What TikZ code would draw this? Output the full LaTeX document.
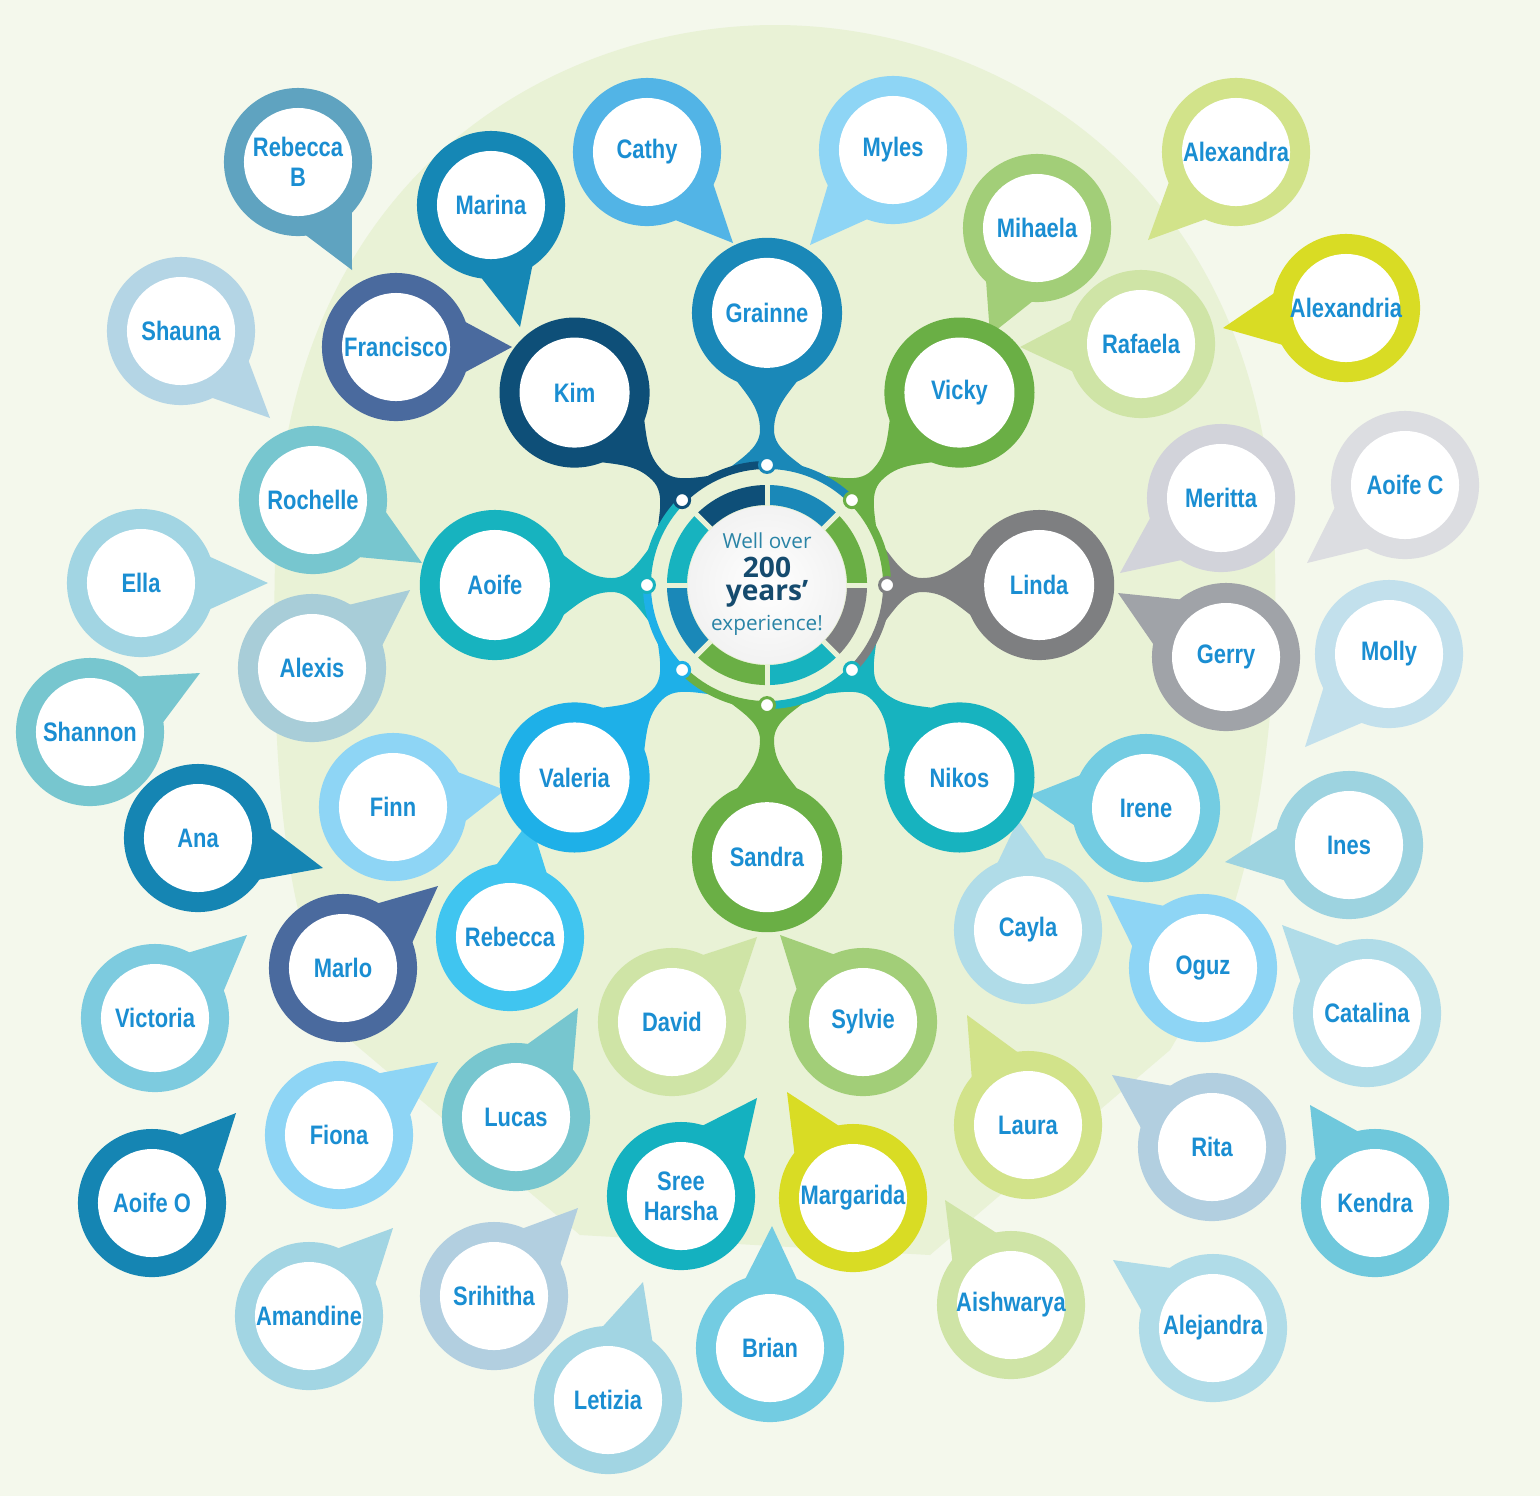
\documentclass[tikz,border=0pt]{standalone}
\usepackage{fontspec}
\setmainfont{Liberation Sans}
\newfontfamily\namefont{Liberation Sans}[FakeStretch=0.82]
\newfontfamily\hubfont{Open Sans}
\usetikzlibrary{calc}
\definecolor{bgout}{HTML}{F4F8EC}
\definecolor{bgin}{HTML}{E9F2D6}
\definecolor{nameblue}{HTML}{1A8ED2}
\definecolor{hubteal}{HTML}{2A84A6}
\definecolor{hubnavy}{HTML}{154B6E}
\definecolor{pSteel}{HTML}{5FA3C0}
\definecolor{pMarina}{HTML}{1587B5}
\definecolor{pCathy}{HTML}{52B4E6}
\definecolor{pSky}{HTML}{8ED5F5}
\definecolor{pLime}{HTML}{D2E38A}
\definecolor{pGreenL}{HTML}{A2CE78}
\definecolor{pYellow}{HTML}{D9DC24}
\definecolor{pPaleG}{HTML}{CFE4A6}
\definecolor{pShauna}{HTML}{B4D5E5}
\definecolor{pSlate}{HTML}{4A6A9E}
\definecolor{pTealL}{HTML}{77C6CF}
\definecolor{pElla}{HTML}{A2D5E3}
\definecolor{pAlexis}{HTML}{A8CDD8}
\definecolor{pMeritta}{HTML}{D2D3DA}
\definecolor{pAoifeC}{HTML}{DCDDE1}
\definecolor{pGerry}{HTML}{A0A3A8}
\definecolor{pMolly}{HTML}{C2E0EC}
\definecolor{pAna}{HTML}{1585B3}
\definecolor{pRebecca}{HTML}{40C5F0}
\definecolor{pVictoria}{HTML}{7DCBDF}
\definecolor{pIrene}{HTML}{73CCE2}
\definecolor{pInes}{HTML}{9DD3E0}
\definecolor{pCayla}{HTML}{B0DCE8}
\definecolor{pRita}{HTML}{B2CFE0}
\definecolor{pKendra}{HTML}{6FC8DC}
\definecolor{pSree}{HTML}{14B1C0}
\definecolor{cGrainne}{HTML}{1A88B8}
\definecolor{cVicky}{HTML}{6AAF45}
\definecolor{cLinda}{HTML}{7E7F81}
\definecolor{cNikos}{HTML}{17B3BF}
\definecolor{cSandra}{HTML}{6AAF45}
\definecolor{cValeria}{HTML}{1EB0E8}
\definecolor{cAoife}{HTML}{17B3BF}
\definecolor{cKim}{HTML}{0E4F78}
\tikzset{
  nm/.style={font=\namefont\bfseries\fontsize{7.6}{8.6}\selectfont, text=nameblue, align=center, inner sep=0pt},
  hubreg/.style={font=\hubfont\fontsize{5.9}{6.5}\selectfont, text=hubteal, inner sep=0pt},
  hubbold/.style={font=\hubfont\bfseries\fontsize{8}{8.5}\selectfont, text=hubnavy, inner sep=0pt}
}
% bubble: name, x, y, colour, tip x, tip y, text
\newcommand\bub[7]{%
  \coordinate (#1) at (#2,#3);
  \coordinate (#1t) at (#5,#6);
  \fill[#4] ($(#1)!0.66cm!28:(#1t)$) -- (#1t) -- ($(#1)!0.66cm!-28:(#1t)$) -- cycle;
  \fill[#4] (#1) circle (0.74cm);
  \fill[white] (#1) circle (0.54cm);
  \node[nm] (#1n) at (#1) {#7};
}
% inner node: name, angle, colour, text
\newcommand\inn[4]{%
  \fill[#3] ($(hub)+(#2:2.72cm)$) coordinate (#1) circle (0.75cm);
  \fill[white] (#1) circle (0.55cm);
  \node[nm] (#1n) at (#1) {#4};
}
\begin{document}
\begin{tikzpicture}[x=0.01cm,y=-0.01cm]
\useasboundingbox (0,0) rectangle (1540,1496);
\fill[bgout] (0,0) rectangle (1540,1496);
\fill[bgin] (775,25) .. controls (1000,25) and (1270,180) .. (1275,560)
  .. controls (1280,800) and (1230,950) .. (1170,1050) -- (930,1255) -- (580,1235) -- (350,1040)
  .. controls (290,950) and (270,800) .. (275,560) .. controls (280,180) and (550,25) .. (775,25) -- cycle;
\coordinate (hub) at (767,585);

% outer bubbles
\bub{Brian}{770}{1348}{pIrene}{772}{1226}{Brian}
\bub{Letizia}{608}{1400}{pElla}{643}{1282}{Letizia}
\bub{RebeccaB}{298}{162}{pSteel}{352}{270}{Rebecca\\B}
\bub{Marina}{491}{205}{pMarina}{520}{327}{Marina}
\bub{Cathy}{647}{152}{pCathy}{733}{243}{Cathy}
\bub{Myles}{893}{150}{pSky}{810}{245}{Myles}
\bub{Alexandra}{1236}{152}{pLime}{1148}{240}{Alexandra}
\bub{Mihaela}{1037}{228}{pGreenL}{990}{335}{Mihaela}
\bub{Alexandria}{1346}{308}{pYellow}{1223}{328}{Alexandria}
\bub{Rafaela}{1141}{344}{pPaleG}{1020}{347}{Rafaela}
\bub{Shauna}{181}{331}{pShauna}{270}{418}{Shauna}
\bub{Francisco}{396}{347}{pSlate}{512}{347}{Francisco}
\bub{Rochelle}{313}{500}{pTealL}{422}{563}{Rochelle}
\bub{Ella}{141}{583}{pElla}{268}{583}{Ella}
\bub{Alexis}{312}{668}{pAlexis}{410}{590}{Alexis}
\bub{Shannon}{90}{732}{pTealL}{200}{673}{Shannon}
\bub{Meritta}{1221}{498}{pMeritta}{1120}{573}{Meritta}
\bub{AoifeC}{1405}{485}{pAoifeC}{1307}{563}{Aoife C}
\bub{Gerry}{1226}{657}{pGerry}{1118}{593}{Gerry}
\bub{Molly}{1389}{654}{pMolly}{1305}{747}{Molly}
\bub{Finn}{393}{807}{pSky}{505}{790}{Finn}
\bub{Ana}{198}{838}{pAna}{323}{868}{Ana}
\bub{Rebecca}{510}{937}{pRebecca}{530}{820}{Rebecca}
\bub{Marlo}{343}{968}{pSlate}{438}{886}{Marlo}
\bub{Victoria}{155}{1018}{pVictoria}{247}{935}{Victoria}
\bub{Cayla}{1028}{930}{pCayla}{1018}{820}{Cayla}
\bub{Irene}{1146}{808}{pIrene}{1030}{795}{Irene}
\bub{Ines}{1349}{845}{pInes}{1225}{862}{Ines}
\bub{Oguz}{1203}{968}{pSky}{1107}{895}{Oguz}
\bub{Catalina}{1367}{1013}{pCayla}{1282}{925}{Catalina}
\bub{David}{672}{1022}{pPaleG}{757}{937}{David}
\bub{Sylvie}{863}{1022}{pGreenL}{780}{935}{Sylvie}
\bub{Fiona}{339}{1135}{pSky}{438}{1062}{Fiona}
\bub{Lucas}{516}{1117}{pTealL}{578}{1008}{Lucas}
\bub{Laura}{1028}{1125}{pLime}{967}{1015}{Laura}
\bub{Rita}{1212}{1147}{pRita}{1112}{1075}{Rita}
\bub{Kendra}{1375}{1203}{pKendra}{1310}{1105}{Kendra}
\bub{AoifeO}{152}{1203}{pAna}{236}{1113}{Aoife O}
\bub{SreeHarsha}{681}{1196}{pSree}{757}{1098}{Sree\\Harsha}
\bub{Margarida}{853}{1198}{pYellow}{787}{1092}{Margarida}
\bub{Amandine}{309}{1316}{pElla}{393}{1228}{Amandine}
\bub{Srihitha}{494}{1296}{pRita}{578}{1208}{Srihitha}
\bub{Aishwarya}{1011}{1305}{pPaleG}{945}{1200}{Aishwarya}
\bub{Alejandra}{1213}{1328}{pCayla}{1113}{1260}{Alejandra}

% connectors from hub to inner nodes
\foreach \a/\c in {90/cGrainne,45/cVicky,0/cLinda,-45/cNikos,-90/cSandra,-135/cValeria,180/cAoife,135/cKim}{
  \begin{scope}[shift={(hub)}, rotate=\a]
    \fill[\c] (106.9,49.9) .. controls (125,30) and (135,7) .. (155,7)
      .. controls (178,7) and (190,20) .. (214,38) -- (214,-38)
      .. controls (190,-20) and (178,-7) .. (155,-7)
      .. controls (135,-7) and (125,-30) .. (106.9,-49.9)
      -- (115.2,-25.5) -- (118,0) -- (115.2,25.5) -- cycle;
  \end{scope}
}
% outer thin ring of the hub
\foreach \a/\c in {90/cGrainne,45/cVicky,0/cLinda,-45/cNikos,-90/cSandra,-135/cValeria,180/cAoife,135/cKim}{
  \draw[\c, line width=0.08cm] ($(hub)+(\a-45:1.2cm)$) arc[start angle=\a-45, end angle=\a, radius=1.2cm];
}
% segmented ring
\foreach \a/\c in {90/cGrainne,45/cVicky,0/cLinda,-45/cNikos,-90/cSandra,225/cGrainne,180/cAoife,135/cKim}{
  \fill[\c] ($(hub)+(\a-45:1cm)$) arc[start angle=\a-45, end angle=\a, radius=1cm]
    -- ($(hub)+(\a:0.8cm)$) arc[start angle=\a, end angle=\a-45, radius=0.8cm] -- cycle;
}
\foreach \a in {0,45,...,315}{
  \draw[bgin, line width=0.05cm] ($(hub)+(\a:0.77cm)$) -- ($(hub)+(\a:1.03cm)$);
}
\shade[inner color=white, outer color=black!5] (hub) circle (0.79cm);
% small circles on ring
\foreach \a/\c in {90/cGrainne,45/cVicky,0/cLinda,-45/cNikos,-90/cSandra,-135/cValeria,180/cAoife,135/cKim}{
  \filldraw[fill=white, draw=\c, line width=0.03cm] ($(hub)+(\a:1.2cm)$) circle (0.075cm);
}
% inner nodes
\inn{Grainne}{90}{cGrainne}{Grainne}
\inn{Vicky}{45}{cVicky}{Vicky}
\inn{Linda}{0}{cLinda}{Linda}
\inn{Nikos}{-45}{cNikos}{Nikos}
\inn{Sandra}{-90}{cSandra}{Sandra}
\inn{Valeria}{-135}{cValeria}{Valeria}
\inn{Aoife}{180}{cAoife}{Aoife}
\inn{Kim}{135}{cKim}{Kim}
% hub text
\node[hubreg] (hubt1) at (767,541) {Well over};
\node[hubbold] (hubt2) at (767,567) {200};
\node[hubbold] (hubt3) at (767,594) {years’};
\node[hubreg] (hubt4) at (767,625) {experience!};
\end{tikzpicture}
\end{document}
